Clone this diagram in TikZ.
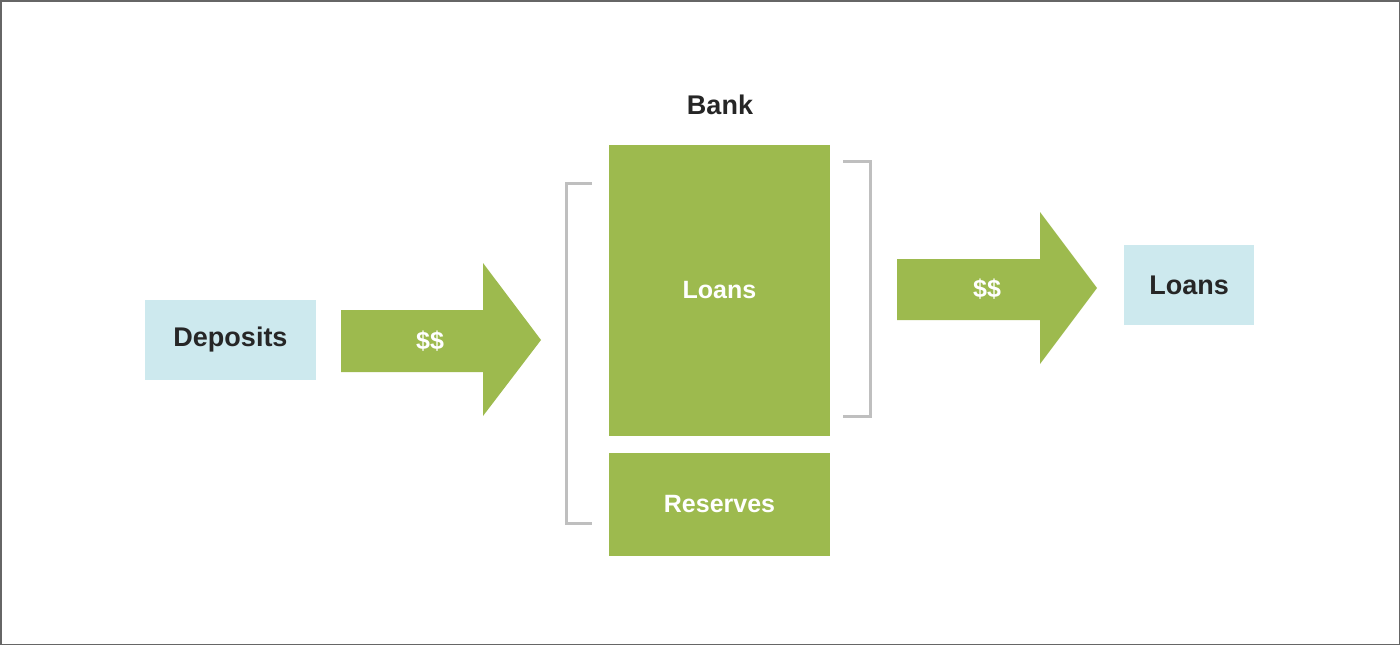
\documentclass[tikz,border=0pt]{standalone}
\usepackage{fontspec}
\setmainfont{Liberation Sans}
\definecolor{grn}{HTML}{9DBA4E}
\definecolor{lblue}{HTML}{CDE9EE}
\definecolor{brk}{HTML}{BFBFBF}
\begin{document}
\begin{tikzpicture}[x=1pt,y=-1pt,
  box/.style={fill=lblue,draw=none,inner sep=0pt,font=\bfseries\fontsize{27}{30}\selectfont,text=black!85},
  gbox/.style={fill=grn,draw=none,inner sep=0pt,font=\bfseries\fontsize{25}{28}\selectfont,text=white},
  arr/.style={fill=grn,draw=none},
  lbl/.style={font=\bfseries\fontsize{25}{28}\selectfont,text=white},
  br/.style={draw=brk,line width=3pt}]
\useasboundingbox (0,0) rectangle (1400,645);
\draw[draw=black!60,line width=1.5pt] (0.75,0.75) rectangle (1399.25,644.25);
\node[box,minimum width=171,minimum height=80] (dep) at (230.5,340) {Deposits};
\fill[arr] (341,310) -- (483,310) -- (483,263) -- (541,340) -- (483,416) -- (483,372) -- (341,372) -- cycle;
\node[lbl] (d1) at (430,341) {\$\$};
\node[gbox,minimum width=221,minimum height=291] (loans) at (719.5,290.5) {Loans};
\node[gbox,minimum width=221,minimum height=103] (res) at (719.5,504.5) {Reserves};
\node[font=\bfseries\fontsize{27}{30}\selectfont,text=black!85] (bank) at (720,105) {Bank};
\draw[br] (592,183) -- (566,183) -- (566,523) -- (592,523);
\draw[br] (843,161) -- (870,161) -- (870,416) -- (843,416);
\fill[arr] (897,259) -- (1040,259) -- (1040,212) -- (1097,288) -- (1040,364) -- (1040,320) -- (897,320) -- cycle;
\node[lbl] (d2) at (987,289) {\$\$};
\node[box,minimum width=130,minimum height=80] (out) at (1189,285) {Loans};
\end{tikzpicture}
\end{document}
